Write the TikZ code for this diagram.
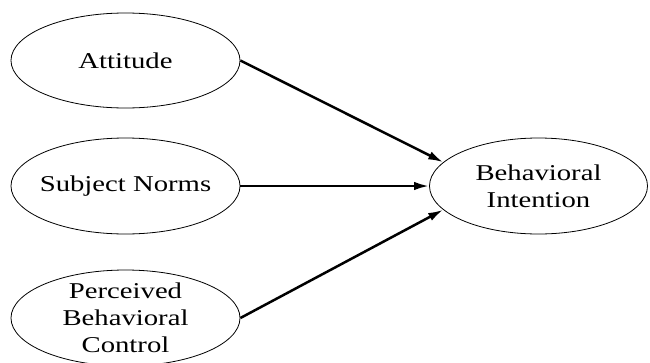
\documentclass[tikz,border=0pt]{standalone}
\usepackage{fontspec}
\usepackage{tikz}
\usetikzlibrary{arrows.meta,positioning,shapes.geometric}
\newfontfamily\diagfont{Liberation Serif}[FakeStretch=1.27]

\begin{document}
\begin{tikzpicture}[x=1pt, y=-1pt, >={Latex[length=15pt,width=8.5pt]},
    oval/.style={draw, ellipse, line width=0.8pt, inner xsep=-12pt, inner ysep=-10pt,
      align=center, font=\diagfont\fontsize{22.6}{27}\selectfont},
    link/.style={->, line width=2.5pt}]
  \useasboundingbox (0,0) rectangle (650,362);
  % predictors
  \node[oval, minimum width=229pt, minimum height=95pt] (att) at (125.5,60.5) {Attitude};
  \node[oval, minimum width=229pt, minimum height=96pt] (sn) at (125.5,186) {Subject Norms};
  \node[oval, minimum width=229pt, minimum height=96pt] (pbc) at (125.5,318)
    {Perceived\\ Behavioral\\ Control};
  % outcome
  \node[oval, minimum width=218pt, minimum height=96pt] (bi) at (538.5,186)
    {Behavioral\\ Intention};
  % paths
  \draw[link] (att.east) -- (bi.166);
  \draw[link] (sn.east) -- (bi.west);
  \draw[link] (pbc.east) -- (bi.194);
\end{tikzpicture}
\end{document}
